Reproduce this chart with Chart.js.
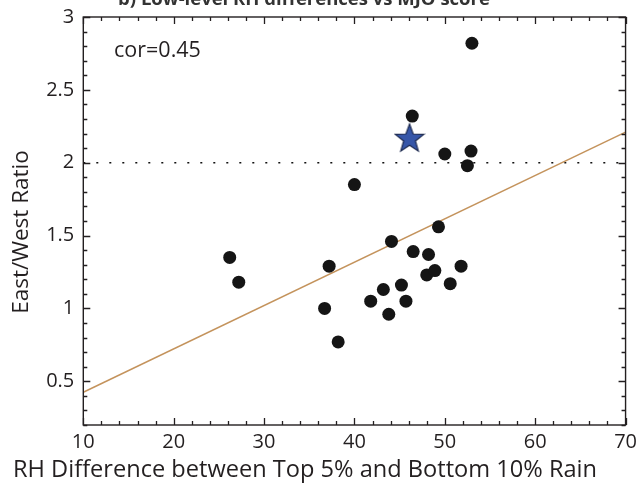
<!DOCTYPE html>
<html>
<head>
<meta charset="utf-8">
<script src="https://cdn.jsdelivr.net/npm/chart.js@4"></script>
<style>
    html, body { margin: 0; padding: 0; background: #fff; overflow: hidden; }
    #wrap { position: absolute; left: 0; top: -12px; width: 642px; height: 501px; }
</style>
</head>
<body>
<div id="wrap"><canvas id="chart"></canvas></div>
<script>
const X_TICKS = [10, 20, 30, 40, 50, 60, 70];
const Y_TICKS = [0.5, 1, 1.5, 2, 2.5, 3];

// RH difference (x) and East/West ratio (y) for each model
const RH_DIFF = [26.2, 27.2, 37.2, 36.7, 38.2, 40.0, 41.8, 43.2, 44.1, 43.8, 45.2, 45.7,
                 46.5, 46.4, 48.2, 48.0, 48.9, 49.3, 50.0, 50.6, 51.8, 52.9, 52.5, 53.0];
const EW_RATIO = [1.35, 1.18, 1.29, 1.00, 0.77, 1.85, 1.05, 1.13, 1.46, 0.96, 1.16, 1.05,
                  1.39, 2.32, 1.37, 1.23, 1.26, 1.56, 2.06, 1.17, 1.29, 2.08, 1.98, 2.82];

// observations (star)
const OBS_X = [46.1];
const OBS_Y = [2.17];

// regression fit and reference line
const FIT_X = [10, 70];
const FIT_Y = [0.425, 2.21];
const REF_X = [10, 70];
const REF_Y = [2, 2];

const TITLE = "b) Low-level RH differences vs MJO score";
const X_LABEL = "RH Difference between Top 5% and Bottom 10% Rain";
const Y_LABEL = "East/West Ratio";
const COR_TEXT = "cor=0.45";

const FONT = "'Open Sans', 'Noto Sans', sans-serif";
const INK = "#231f20";

function pairs(xs, ys) {
    return xs.map((x, i) => ({ x: x, y: ys[i] }));
}

function makeStar() {
    const c = document.createElement("canvas");
    c.width = 32; c.height = 32;
    const g = c.getContext("2d");
    const cx = 16, cy = 17, ro = 15, ri = 6.2;
    g.beginPath();
    for (let i = 0; i < 10; i++) {
        const r = i % 2 === 0 ? ro : ri;
        const a = -Math.PI / 2 + i * Math.PI / 5;
        const px = cx + r * Math.cos(a), py = cy + r * Math.sin(a);
        if (i === 0) g.moveTo(px, py); else g.lineTo(px, py);
    }
    g.closePath();
    g.fillStyle = "#3656a8";
    g.fill();
    g.lineWidth = 1.2;
    g.strokeStyle = "#1d2a4f";
    g.stroke();
    return c;
}

// box around the plot, inward ticks on all four sides, and the texts
const frame = {
    id: "frame",
    afterDatasetsDraw(chart) {
        const { ctx, chartArea: a, scales } = chart;
        const xs = scales.x, ys = scales.y;
        ctx.save();
        ctx.strokeStyle = INK;
        ctx.lineWidth = 1.4;
        ctx.strokeRect(a.left, a.top, a.right - a.left, a.bottom - a.top);
        ctx.lineWidth = 1.3;
        ctx.beginPath();
        for (let v = xs.min; v <= xs.max + 1e-6; v += 2) {
            const p = Math.round(xs.getPixelForValue(v)) + 0.5;
            const len = Math.abs(v % 10) < 1e-6 ? 7 : 4;
            ctx.moveTo(p, a.bottom); ctx.lineTo(p, a.bottom - len);
            ctx.moveTo(p, a.top); ctx.lineTo(p, a.top + len);
        }
        for (let k = 2; k <= 30; k++) {
            const p = Math.round(ys.getPixelForValue(k / 10)) + 0.5;
            const len = k % 5 === 0 ? 7 : 4;
            ctx.moveTo(a.left, p); ctx.lineTo(a.left + len, p);
            ctx.moveTo(a.right, p); ctx.lineTo(a.right - len, p);
        }
        ctx.stroke();

        ctx.fillStyle = INK;
        ctx.font = "21.5px " + FONT;
        ctx.textAlign = "left";
        ctx.textBaseline = "middle";
        ctx.fillText(COR_TEXT, xs.getPixelForValue(13.4), ys.getPixelForValue(2.77));

        ctx.font = "23.6px " + FONT;
        ctx.textAlign = "center";
        ctx.fillText(X_LABEL, 305, 482);

        ctx.save();
        ctx.translate(22, 244);
        ctx.rotate(-Math.PI / 2);
        ctx.font = "22.5px " + FONT;
        ctx.fillText(Y_LABEL, 0, 0);
        ctx.restore();

        ctx.font = "bold 18.5px " + FONT;
        ctx.fillStyle = "#333";
        ctx.textBaseline = "alphabetic";
        ctx.fillText(TITLE, 304, 17);
        ctx.restore();
    }
};

new Chart(document.getElementById("chart"), {
    type: "scatter",
    data: {
        datasets: [
            {
                data: pairs(OBS_X, OBS_Y),
                pointStyle: makeStar(),
                order: 0
            },
            {
                data: pairs(RH_DIFF, EW_RATIO),
                pointRadius: 6.5,
                pointBackgroundColor: "#151515",
                pointBorderColor: "#151515",
                pointBorderWidth: 0,
                order: 1
            },
            {
                type: "line",
                data: pairs(FIT_X, FIT_Y),
                borderColor: "#c4935c",
                borderWidth: 1.5,
                pointRadius: 0,
                order: 2
            },
            {
                type: "line",
                data: pairs(REF_X, REF_Y),
                borderColor: "#111",
                borderWidth: 1.6,
                borderDash: [2, 11],
                pointRadius: 0,
                order: 3
            }
        ]
    },
    options: {
        responsive: true,
        maintainAspectRatio: false,
        animation: false,
        events: [],
        layout: { padding: { top: 29, right: 13, left: 0, bottom: 0 } },
        plugins: {
            legend: { display: false },
            tooltip: { enabled: false },
            title: { display: false }
        },
        scales: {
            x: {
                type: "linear",
                min: 10,
                max: 70,
                afterBuildTicks: s => { s.ticks = X_TICKS.map(v => ({ value: v })); },
                afterFit: s => { s.height = 64; },
                grid: { display: false, drawTicks: false },
                border: { display: false },
                ticks: { padding: 5, color: INK, font: { family: FONT, size: 20 }, callback: v => String(v) }
            },
            y: {
                type: "linear",
                min: 0.2,
                max: 3,
                afterBuildTicks: s => { s.ticks = Y_TICKS.map(v => ({ value: v })); },
                afterFit: s => { s.width = 83.3; },
                grid: { display: false, drawTicks: false },
                border: { display: false },
                ticks: { padding: 9, color: INK, font: { family: FONT, size: 20 }, callback: v => String(v) }
            }
        }
    },
    plugins: [frame]
});
</script>
</body>
</html>
